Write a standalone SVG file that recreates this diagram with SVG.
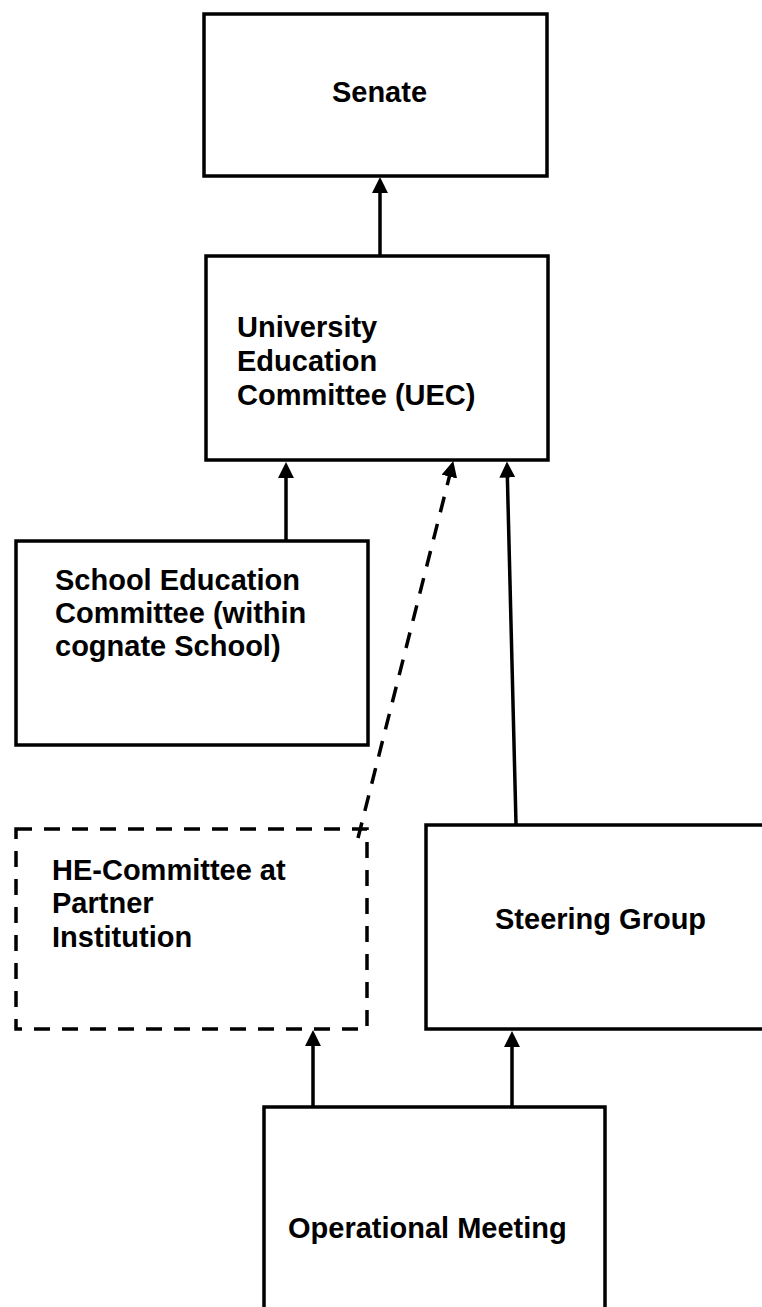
<svg xmlns="http://www.w3.org/2000/svg" width="762" height="1307" viewBox="0 0 762 1307">
<style>
.box{fill:#fff;stroke:#000;stroke-width:3.5}
.dash{stroke-dasharray:16 12}
.lbl{font-family:"Liberation Sans",Arial,sans-serif;font-weight:bold;font-size:29px;fill:#000}
.con{stroke:#000;stroke-width:3.5;fill:none}
</style>
<defs>
<marker id="ah" markerUnits="userSpaceOnUse" markerWidth="16" markerHeight="16" viewBox="0 0 15 15" refX="1" refY="7.5" orient="auto">
<path d="M0,0 L15,7.5 L0,15 z" fill="#000"/>
</marker>
</defs>
<rect width="762" height="1307" fill="#fff"/>
<g id="senate">
<rect class="box" x="204" y="14" width="343" height="162"/>
<text class="lbl" x="379.5" y="102" text-anchor="middle">Senate</text>
</g>
<g id="uec">
<rect class="box" x="206" y="256" width="342" height="204"/>
<text class="lbl" x="237" y="337">University</text>
<text class="lbl" x="237" y="371">Education</text>
<text class="lbl" x="237" y="405">Committee (UEC)</text>
</g>
<g id="sec">
<rect class="box" x="16" y="541" width="352" height="204"/>
<text class="lbl" x="55" y="590">School Education</text>
<text class="lbl" x="55" y="623">Committee (within</text>
<text class="lbl" x="55" y="656">cognate School)</text>
</g>
<g id="he">
<rect class="box dash" x="16" y="829" width="351" height="200"/>
<text class="lbl" x="52" y="880">HE-Committee at</text>
<text class="lbl" x="52" y="913">Partner</text>
<text class="lbl" x="52" y="947">Institution</text>
</g>
<g id="steering">
<rect class="box" x="426" y="825" width="360" height="204"/>
<text class="lbl" x="495" y="929">Steering Group</text>
</g>
<g id="operational">
<rect class="box" x="264" y="1107" width="341" height="230"/>
<text class="lbl" x="288" y="1238">Operational Meeting</text>
</g>
<g id="connectors">
<line class="con" x1="380" y1="255" x2="380" y2="192" marker-end="url(#ah)"/>
<line class="con" x1="286" y1="540" x2="286" y2="477" marker-end="url(#ah)"/>
<line class="con dash" x1="358" y1="838" x2="449.6" y2="475.6" marker-end="url(#ah)"/>
<line class="con" x1="516" y1="824" x2="507.35" y2="476.5" marker-end="url(#ah)"/>
<line class="con" x1="313" y1="1106" x2="313" y2="1045" marker-end="url(#ah)"/>
<line class="con" x1="512" y1="1106" x2="512" y2="1046" marker-end="url(#ah)"/>
</g>
</svg>
